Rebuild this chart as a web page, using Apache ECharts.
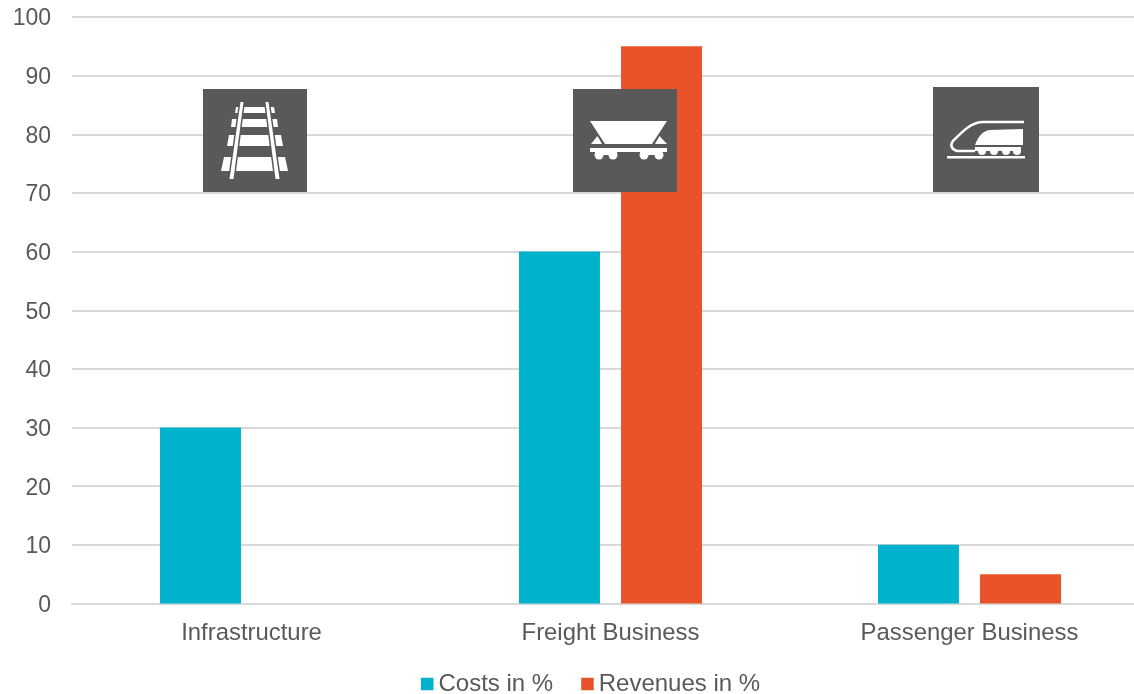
<!DOCTYPE html>
<html>
<head>
<meta charset="utf-8">
<style>html,body{margin:0;padding:0;background:#fff}#chart{width:1134px;height:694px}</style>
<script src="https://cdn.jsdelivr.net/npm/echarts@6/dist/echarts.min.js"></script>
</head>
<body>
<div id="chart"></div>
<script>
const categories = ['Infrastructure', 'Freight Business', 'Passenger Business'];
const costs = [30, 60, 10];
const revenues = [0, 95, 5];
const seriesNames = ['Costs in %', 'Revenues in %'];

const TEXT = '#595959', GRID = '#d9d9d9', BOX = '#595959', WHITE = '#ffffff';
const FONT = '"Liberation Sans", Arial, sans-serif';
const ICON_Z = 100;

const poly = (points, fill) => ({ type: 'polygon', z: ICON_Z, shape: { points }, style: { fill } });
const box = (x, y, width, height, fill) => ({ type: 'rect', z: ICON_Z, shape: { x, y, width, height }, style: { fill } });
const disc = (cx, cy, r, fill) => ({ type: 'circle', z: ICON_Z, shape: { cx, cy, r }, style: { fill } });

// Outlines of the train pictogram, registered as reusable shapes
echarts.graphic.registerShape('trainNose', echarts.graphic.extendPath(
  'M1024 122 L982 122 C970 123 962 132 953 141 C950 145 951 149 957 151 L975 151', {}));
echarts.graphic.registerShape('trainCab', echarts.graphic.extendPath(
  'M975 145 C978 137 982 131 990 130 L1023 129 L1023 145 Z', {}));

// Railway track pictogram
const trackIcon = [
  box(203, 89, 104, 103, BOX),
  poly([[236, 107], [274, 107], [275, 113], [235, 113]], WHITE),
  poly([[232, 119], [277, 119], [278, 127], [231, 127]], WHITE),
  poly([[229, 135], [281, 135], [283, 146], [227, 146]], WHITE),
  poly([[224, 157], [285, 157], [288, 171], [221, 171]], WHITE),
  poly([[239, 102], [245, 102], [235, 179], [228, 179]], BOX),
  poly([[264, 102], [270, 102], [281, 179], [274, 179]], BOX),
  poly([[240.5, 102], [243.5, 102], [233.5, 179], [229.5, 179]], WHITE),
  poly([[265.5, 102], [268.5, 102], [279.5, 179], [275.5, 179]], WHITE)
];

// Hopper wagon pictogram
const wagonIcon = [
  box(573, 89, 104, 103, BOX),
  poly([[590, 121], [667, 121], [652, 144], [605, 144]], WHITE),
  poly([[591, 144], [597.5, 136], [602, 144]], WHITE),
  poly([[655, 144], [659.5, 136], [667, 144]], WHITE),
  box(590, 148, 77, 4, WHITE),
  box(595, 152, 22, 3, WHITE),
  box(640, 152, 22, 3, WHITE),
  disc(599, 155, 4.5, WHITE),
  disc(613, 155, 4.5, WHITE),
  disc(644, 155, 4.5, WHITE),
  disc(659, 155, 4.5, WHITE)
];

// High-speed train pictogram
const trainIcon = [
  box(933, 87, 106, 105, BOX),
  { type: 'trainNose', z: ICON_Z, style: { fill: null, stroke: WHITE, lineWidth: 2.5 } },
  { type: 'trainCab', z: ICON_Z, style: { fill: WHITE } },
  box(975, 147, 46, 4, WHITE),
  disc(982, 151, 4, WHITE),
  disc(994, 151, 4, WHITE),
  disc(1006, 151, 4, WHITE),
  disc(1017, 151, 4, WHITE),
  box(947, 156, 78, 2.5, WHITE)
];

const chart = echarts.init(document.getElementById('chart'), null, { renderer: 'canvas' });
chart.setOption({
  animation: false,
  backgroundColor: '#ffffff',
  textStyle: { fontFamily: FONT },
  grid: { left: 72, top: 17, width: 1077, height: 586.5, containLabel: false, outerBoundsMode: 'none' },
  legend: {
    left: 416,
    top: 667,
    itemWidth: 12.5,
    itemHeight: 12.5,
    itemGap: 28,
    icon: 'rect',
    data: seriesNames,
    textStyle: { color: TEXT, fontSize: 24, fontFamily: FONT, padding: [2, 0, 0, 0] }
  },
  xAxis: {
    type: 'category',
    data: categories,
    axisTick: { show: false },
    axisLine: { lineStyle: { color: GRID, width: 2 } },
    axisLabel: { color: TEXT, fontSize: 23.9, fontFamily: FONT, margin: 18 }
  },
  yAxis: {
    type: 'value',
    min: 0,
    max: 100,
    interval: 10,
    axisLine: { show: false },
    axisTick: { show: false },
    splitLine: { lineStyle: { color: GRID, width: 2 } },
    axisLabel: {
      margin: 21,
      formatter: '{tick|{value}}',
      rich: { tick: { color: TEXT, fontSize: 23, fontFamily: FONT, padding: [4, 0, 0, 0] } }
    }
  },
  series: [
    { name: seriesNames[0], type: 'bar', data: costs, barWidth: 81, barGap: '26%', itemStyle: { color: '#00b2cb' } },
    { name: seriesNames[1], type: 'bar', data: revenues, barWidth: 81, itemStyle: { color: '#e8532a' } }
  ],
  graphic: [
    { type: 'group', children: trackIcon },
    { type: 'group', children: wagonIcon },
    { type: 'group', children: trainIcon }
  ]
});
</script>
</body>
</html>
